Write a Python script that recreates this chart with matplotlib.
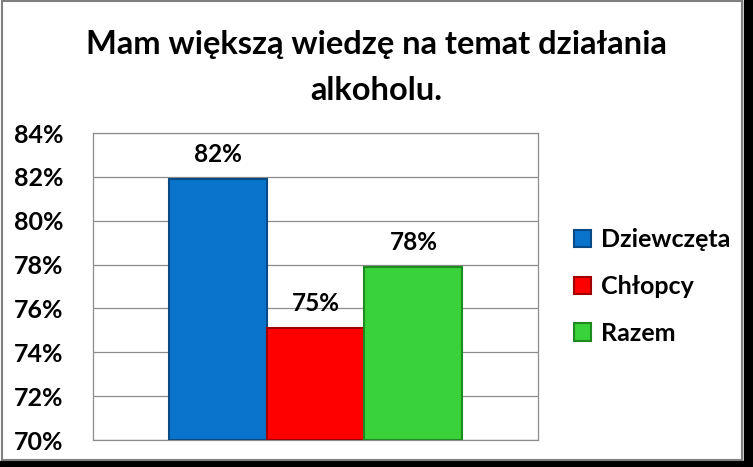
import matplotlib.pyplot as plt
from matplotlib.patches import Rectangle

series = ['Dziewczęta', 'Chłopcy', 'Razem']
values = [81.9, 75.1, 77.9]
colors = ['#0a74cc', '#ff0000', '#3ad23a']
edge_colors = ['#064a86', '#a00000', '#1f8a1f']
yticks = [70, 72, 74, 76, 78, 80, 82, 84]

plt.rcParams['font.family'] = ['Lato', 'DejaVu Sans']
plt.rcParams['font.weight'] = 'bold'

fig = plt.figure(figsize=(7.53, 4.67), dpi=100)
fig.patch.set_facecolor('white')

# frame with dark shadow on right and bottom
fig.patches.append(Rectangle((0.988, 0), 0.012, 1, transform=fig.transFigure,
                             color='black', zorder=0))
fig.patches.append(Rectangle((0, 0), 1, 0.012, transform=fig.transFigure,
                             color='black', zorder=0))
fig.patches.append(Rectangle((0.002, 0.014), 0.984, 0.984, transform=fig.transFigure,
                             fill=False, edgecolor='#808080', linewidth=1.5, zorder=1))

ax = fig.add_axes([0.1235, 0.0578, 0.591, 0.6574])
width = 0.22
offsets = [-width, 0, width]
for name, v, c, ec, off in zip(series, values, colors, edge_colors, offsets):
    ax.bar(off, v - 70, bottom=70, width=width, color=c, edgecolor=ec,
           linewidth=1.5, label=name, zorder=3)
    ax.text(off, v + 0.6, '%d%%' % round(v), ha='center', va='bottom',
            fontsize=17.5, fontweight='bold', zorder=4)

ax.set_xlim(-0.5, 0.5)
ax.set_ylim(70, 84)
ax.set_yticks(yticks)
ax.set_yticklabels(['%d%%' % t for t in yticks], fontsize=18, fontweight='bold')
ax.set_xticks([])
ax.tick_params(axis='y', length=0, pad=21)
ax.grid(axis='y', color='#8c8c8c', linewidth=0.9, zorder=0)
for s in ax.spines.values():
    s.set_color('#8c8c8c')
    s.set_linewidth(0.9)

fig.text(0.5, 0.904, 'Mam większą wiedzę na temat działania', ha='center',
         va='center', fontsize=23.5, fontweight='bold')
fig.text(0.5, 0.807, 'alkoholu.', ha='center', va='center', fontsize=23.5,
         fontweight='bold')

ax.legend(loc='center left', bbox_to_anchor=(1.03, 0.5), frameon=False,
          handlelength=0.7, handleheight=0.7, labelspacing=0.95,
          handletextpad=0.4, prop={'weight': 'bold', 'size': 18})

fig.savefig('out.png', dpi=100)
